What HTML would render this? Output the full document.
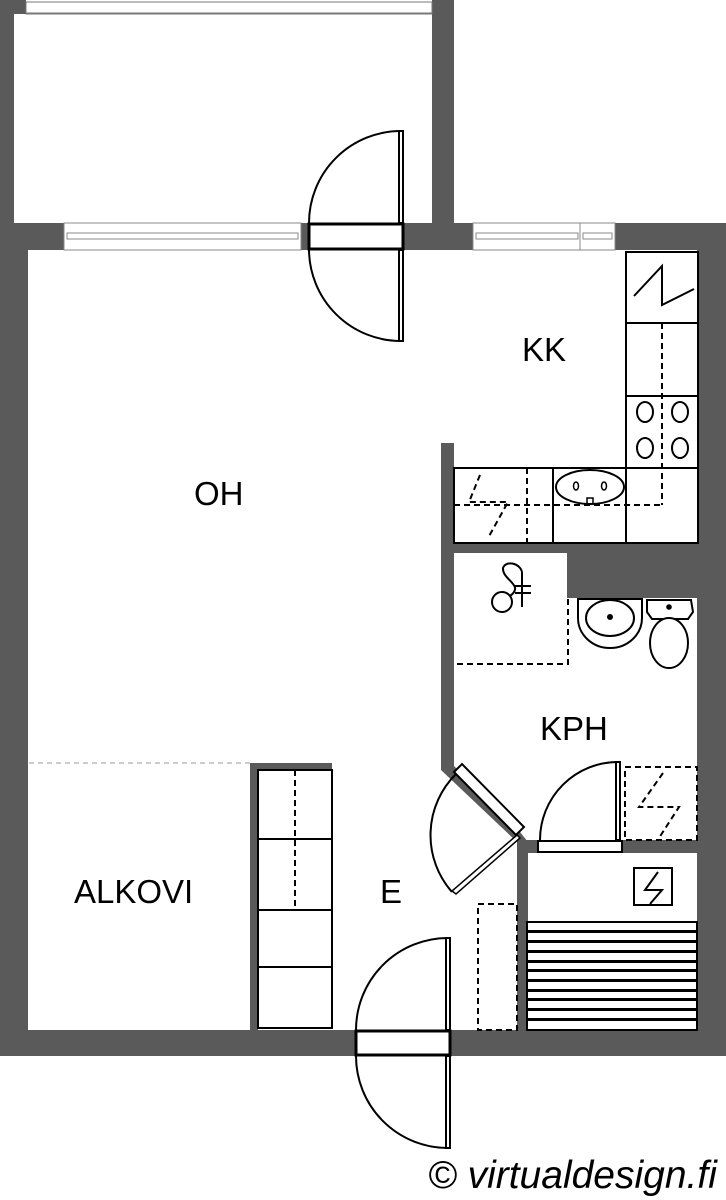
<!DOCTYPE html>
<html><head><meta charset="utf-8"><style>
html,body{margin:0;padding:0;background:#fff;}
svg{display:block;}
text{font-family:"Liberation Sans",Arial,sans-serif;fill:#000;}
</style></head><body>
<svg width="726" height="1200" viewBox="0 0 726 1200" xmlns="http://www.w3.org/2000/svg">
<g fill="#5a5a5a">
 <rect x="0" y="0" width="14" height="224"/>
 <rect x="0" y="0" width="26" height="14"/>
 <rect x="432" y="0" width="22" height="224"/>
 <rect x="0" y="223" width="726" height="27"/>
 <rect x="0" y="223" width="28" height="833"/>
 <rect x="697" y="223" width="29" height="833"/>
 <rect x="0" y="1030" width="726" height="26"/>
 <rect x="441" y="443" width="13" height="326"/>
 <rect x="441" y="543" width="285" height="10"/>
 <rect x="567" y="553" width="130" height="45"/>
 <polygon points="441,766 454,766 520,832 528,842 528,1030 517,1030 517,842 441,770"/>
 <rect x="517" y="840" width="180" height="13"/>
 <rect x="250" y="763" width="8" height="267"/>
 <rect x="250" y="763" width="82" height="7"/>
</g>
<rect x="26" y="2" width="406" height="12" fill="#fff" stroke="#777" stroke-width="1"/>
<line x1="26" y1="13" x2="432" y2="13" stroke="#777"/>
<g fill="#fff" stroke="#888" stroke-width="1">
 <rect x="64" y="223" width="237" height="27"/>
 <rect x="67" y="233" width="231" height="6"/>
 <rect x="473" y="223" width="142" height="27"/>
 <rect x="476" y="233" width="102" height="6"/>
 <rect x="583" y="233" width="29" height="6"/>
 <line x1="580" y1="223" x2="580" y2="250"/>
</g>
<g fill="none" stroke="#000" stroke-width="2">
 <rect x="309" y="224" width="94" height="25" fill="#fff" stroke-width="3"/>
 <rect x="399" y="131" width="4" height="92" fill="#fff"/>
 <path d="M401,131 A92,92 0 0 0 309,223"/>
 <rect x="399" y="250" width="4" height="91" fill="#fff"/>
 <path d="M401,341 A92,92 0 0 1 309,250"/>
 <rect x="626" y="252" width="72" height="291" fill="#fff"/>
 <line x1="626" y1="323" x2="698" y2="323"/>
 <line x1="626" y1="396" x2="698" y2="396"/>
 <line x1="626" y1="468" x2="698" y2="468"/>
 <polyline points="634,296 662,266 662,305 694,289" stroke-width="2"/>
 <rect x="454" y="468" width="244" height="75" fill="#fff"/>
 <line x1="553" y1="468" x2="553" y2="543"/>
 <line x1="626" y1="468" x2="626" y2="543"/>
 <ellipse cx="645" cy="412" rx="8" ry="10"/>
 <ellipse cx="680" cy="412" rx="8" ry="10"/>
 <ellipse cx="645" cy="448" rx="8" ry="10"/>
 <ellipse cx="680" cy="448" rx="8" ry="10"/>
 <ellipse cx="590" cy="487" rx="34" ry="17"/>
 <ellipse cx="576" cy="486" rx="2.5" ry="4" stroke-width="1.5"/>
 <ellipse cx="604" cy="486" rx="2.5" ry="4" stroke-width="1.5"/>
 <rect x="587" y="498" width="6" height="6" stroke-width="1.5"/>
 <g stroke-dasharray="6,4">
  <line x1="662" y1="323" x2="662" y2="505"/>
  <line x1="454" y1="505" x2="662" y2="505"/>
  <line x1="527" y1="468" x2="527" y2="543"/>
  <polyline points="480,475 469,502 508,502 488,538"/>
 </g>
 <g stroke-dasharray="6,4">
  <polyline points="568,599 568,664 454,664"/>
  <rect x="625" y="767" width="72" height="73"/>
  <polyline points="663,773 639,807 679,807 659,838"/>
  <rect x="478" y="904" width="39" height="126"/>
 </g>
 <path d="M578,599 L642,599 L642,618 A32,30 0 0 1 578,618 Z" fill="#fff"/>
 <ellipse cx="610" cy="618" rx="24" ry="18"/>
 <circle cx="610" cy="617" r="2" fill="#000"/>
 <path d="M647,600 L691,600 L693,612 L688,619 L652,619 L647,612 Z" fill="#fff"/>
 <circle cx="669" cy="607" r="1.8" fill="#000"/>
 <ellipse cx="669" cy="643" rx="19" ry="25" fill="#fff"/>
 <circle cx="502" cy="602" r="10"/>
 <path d="M510,596 C525,585 502,580 503,568 C506,560 520,563 522,572"/>
 <line x1="522" y1="572" x2="522" y2="607"/>
 <line x1="515" y1="586" x2="531" y2="586"/>
 <line x1="515" y1="593" x2="531" y2="593"/>
 <polygon points="454,772 462,764 524,827 516,835" fill="#fff" stroke-width="2"/>
 <polygon points="517,835 520,838 456,894 452,891" fill="#fff" stroke-width="1.5"/>
 <path d="M456,774 A86,86 0 0 0 452,892"/>
 <rect x="538" y="841" width="84" height="11" fill="#fff"/>
 <rect x="616" y="762" width="4" height="78" fill="#fff"/>
 <path d="M618,762 A78,78 0 0 0 540,840"/>
 <rect x="634" y="868" width="38" height="37"/>
 <polyline points="658,872 645,890 662,890 650,904"/>
 <rect x="527" y="922" width="170" height="108" fill="#fff" stroke-width="2"/>
 <rect x="258" y="770" width="74" height="258" fill="#fff"/>
 <line x1="258" y1="839" x2="332" y2="839"/>
 <line x1="258" y1="910" x2="332" y2="910"/>
 <line x1="258" y1="967" x2="332" y2="967"/>
 <line x1="295" y1="770" x2="295" y2="910" stroke-dasharray="6,4"/>
 <rect x="356" y="1031" width="94" height="24" fill="#fff" stroke-width="3"/>
 <rect x="446" y="938" width="4" height="92" fill="#fff"/>
 <path d="M448,938 A92,92 0 0 0 356,1030"/>
 <rect x="446" y="1056" width="4" height="92" fill="#fff"/>
 <path d="M448,1148 A92,92 0 0 1 356,1056"/>
</g>
<g fill="#000">
 <rect x="527" y="930" width="170" height="3"/>
 <rect x="527" y="940" width="170" height="3"/>
 <rect x="527" y="950" width="170" height="3"/>
 <rect x="527" y="960" width="170" height="3"/>
 <rect x="527" y="969" width="170" height="3"/>
 <rect x="527" y="979" width="170" height="3"/>
 <rect x="527" y="989" width="170" height="3"/>
 <rect x="527" y="998" width="170" height="3"/>
 <rect x="527" y="1008" width="170" height="3"/>
 <rect x="527" y="1018" width="170" height="3"/>
</g>
<line x1="29" y1="763" x2="250" y2="763" stroke="#999" stroke-width="1" stroke-dasharray="5,4"/>
<g font-size="33">
 <text x="194" y="505">OH</text>
 <text x="522" y="361">KK</text>
 <text x="540" y="740">KPH</text>
 <text x="74" y="903">ALKOVI</text>
 <text x="380" y="903">E</text>
</g>
<text x="428" y="1188" font-size="39" font-style="italic">© virtualdesign.fi</text>
</svg>
</body></html>
